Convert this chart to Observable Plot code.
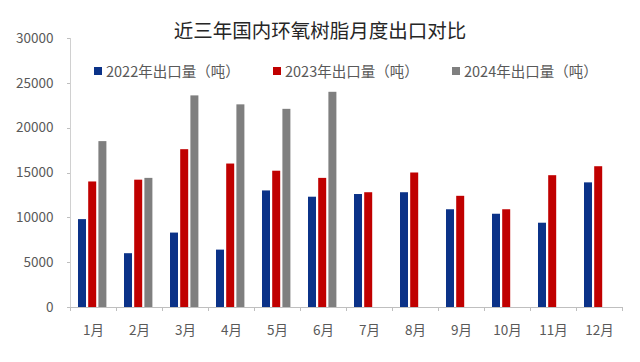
<!DOCTYPE html>
<html>
<head>
<meta charset="utf-8">
<script src="https://cdn.jsdelivr.net/npm/d3@7"></script>
<script src="https://cdn.jsdelivr.net/npm/@observablehq/plot@0.6"></script>
<style>
  html, body { margin: 0; padding: 0; background: #ffffff; }
  #wrap { position: relative; width: 640px; height: 362px; font-family: "Noto Sans CJK SC", "Noto Sans", sans-serif; }
  #title { position: absolute; left: 0; width: 640px; top: 17px; text-align: center; font-size: 19.5px; color: #262626; line-height: 26px; }
  #legend { position: absolute; top: 62px; left: 94px; height: 18px; font-size: 14.5px; color: #595959; line-height: 18px; white-space: nowrap; }
  .item { position: absolute; top: 0; }
  .sw { position: absolute; top: 5px; left: 0; width: 8px; height: 8px; }
  .lab { position: absolute; left: 12px; top: 0; }
  #chart { position: absolute; left: 0; top: 0; }
</style>
</head>
<body>
<div id="wrap">
  <div id="chart"></div>
  <div id="title"></div>
  <div id="legend"></div>
</div>
<script>
const months = ["1月","2月","3月","4月","5月","6月","7月","8月","9月","10月","11月","12月"];
const series = ["2022年出口量（吨）","2023年出口量（吨）","2024年出口量（吨）"];
const colors = ["#0B3288","#C00000","#7F7F7F"];
const v2022 = [9800, 6000, 8300, 6400, 13000, 12300, 12600, 12800, 10900, 10400, 9400, 13900];
const v2023 = [14000, 14200, 17600, 16000, 15200, 14400, 12800, 15000, 12400, 10900, 14700, 15700];
const v2024 = [18500, 14400, 23600, 22600, 22100, 24000];
const yTicks = [0, 5000, 10000, 15000, 20000, 25000, 30000];
const titleText = "近三年国内环氧树脂月度出口对比";

const rows = (vals) => vals.map((v, i) => ({month: months[i], value: v}));
const seriesData = [rows(v2022), rows(v2023), rows(v2024)];

const W = 640, H = 362, ML = 70, MR = 18, MT = 38, MB = 55;
const bw = (W - ML - MR) / months.length;
const barW = 8;
const offsets = [-11, -0.8, 9.4];

function boundaryTicks(index, scales, values, dimensions) {
  const x = scales.x, y = scales.y;
  const step = x(months[1]) - x(months[0]);
  const y0 = y(0);
  const g = d3.create("svg:g").attr("stroke", "#BFBFBF").attr("stroke-width", 1);
  const xs = months.map(m => x(m)).concat([x(months[months.length - 1]) + step]);
  for (const px of xs) {
    g.append("line").attr("x1", Math.round(px) + 0.5).attr("x2", Math.round(px) + 0.5)
      .attr("y1", y0).attr("y2", y0 + 4);
  }
  for (const t of yTicks) {
    g.append("line").attr("x1", dimensions.marginLeft - 3).attr("x2", dimensions.marginLeft)
      .attr("y1", Math.round(y(t)) + 0.5).attr("y2", Math.round(y(t)) + 0.5);
  }
  return g.node();
}

const chart = Plot.plot({
  width: W,
  height: H,
  marginLeft: ML,
  marginRight: MR,
  marginTop: MT,
  marginBottom: MB,
  style: {fontFamily: "'Noto Sans CJK SC', 'Noto Sans', sans-serif", background: "transparent"},
  x: {domain: months, padding: 0, axis: null, label: null},
  y: {domain: [0, 30000], axis: null, label: null},
  marks: [
    ...seriesData.map((data, i) => Plot.barY(data, {
      x: "month", y: "value", fill: colors[i],
      insetLeft: (bw - barW) / 2, insetRight: (bw - barW) / 2, dx: offsets[i]
    })),
    Plot.ruleY([0], {stroke: "#BFBFBF"}),
    Plot.frame({anchor: "left", stroke: "#D0D0D0"}),
    boundaryTicks,
    Plot.axisY({ticks: yTicks, label: null, tickSize: 0, tickPadding: 17, tickFormat: d => String(d), fontSize: 13.5, fill: "#595959"}),
    Plot.axisX({label: null, tickSize: 0, tickPadding: 18, fontSize: 13.5, fill: "#595959"})
  ]
});
document.getElementById("chart").appendChild(chart);
document.getElementById("title").textContent = titleText;

const legend = document.getElementById("legend");
const lefts = [0, 179, 358];
series.forEach((s, i) => {
  const item = document.createElement("div");
  item.className = "item";
  item.style.left = lefts[i] + "px";
  const sw = document.createElement("div");
  sw.className = "sw";
  sw.style.background = colors[i];
  const lab = document.createElement("div");
  lab.className = "lab";
  lab.textContent = s;
  item.appendChild(sw); item.appendChild(lab);
  legend.appendChild(item);
});
</script>
</body>
</html>
